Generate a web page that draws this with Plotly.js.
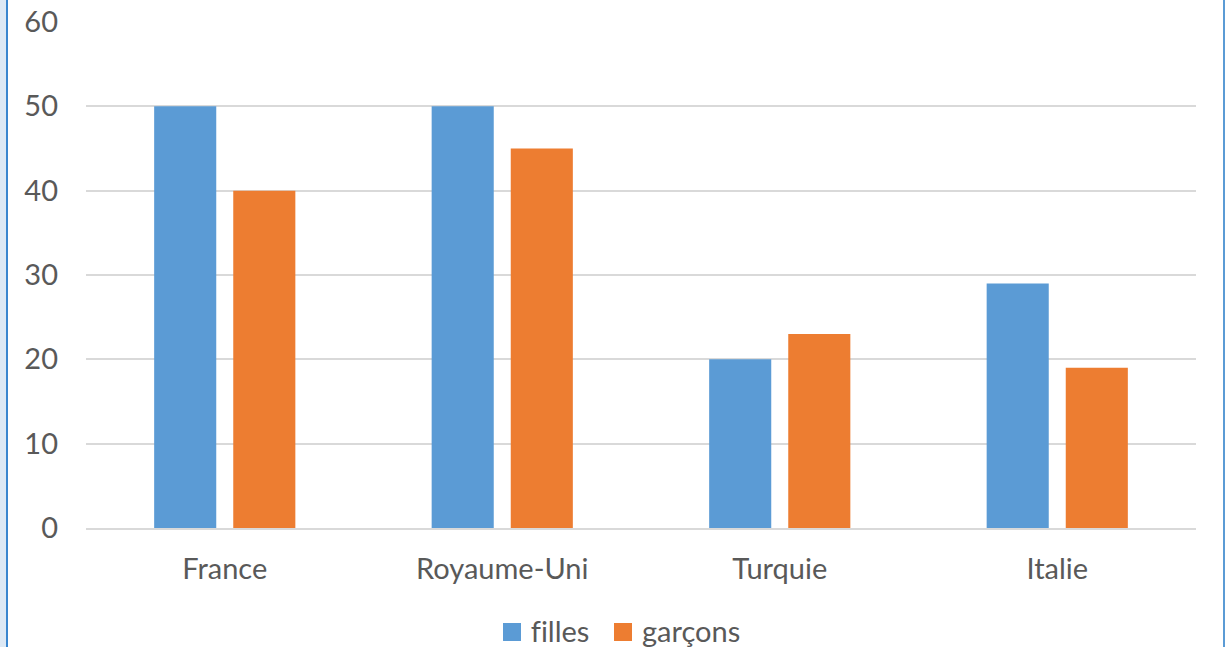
<!DOCTYPE html>
<html><head><meta charset="utf-8">
<script src="https://cdn.plot.ly/plotly-3.0.1.min.js"></script>
<style>
html,body{margin:0;padding:0;background:#fff;}
#wrap{position:relative;width:1225px;height:647px;overflow:hidden;}
#chart{position:absolute;left:0;top:0;width:1225px;height:647px;}
#chart text{font-variant-ligatures:none;font-feature-settings:"liga" 0;}
#lb{position:absolute;left:0;top:0;width:6px;height:647px;background:#dde9f5;}
#ll{position:absolute;left:6px;top:0;width:2px;height:647px;background:#3a86cf;}
#rl{position:absolute;left:1223px;top:0;width:2px;height:647px;background:#5b9bd5;}
</style></head>
<body><div id="wrap"><div id="chart"></div><div id="lb"></div><div id="ll"></div><div id="rl"></div></div>
<script>
const categories = ["France", "Royaume-Uni", "Turquie", "Italie"];
const filles = [50, 50, 20, 29];
const garcons = [40, 45, 23, 19];
const seriesNames = ["filles", "garçons"];
const seriesColors = ["#5b9bd5", "#ed7d31"];
const yTicks = [0, 10, 20, 30, 40, 50, 60];

const fontFam = "Lato, 'Open Sans', sans-serif";
const txtColor = "#595959";
const data = [
  {type:"bar", x:categories, y:filles, name:seriesNames[0], marker:{color:seriesColors[0]}},
  {type:"bar", x:categories, y:garcons, name:seriesNames[1], marker:{color:seriesColors[1]}}
];

// custom legend (paper coords)
const legItems = [
  {x0:0.3757, x1:0.3919, tx:0.399},
  {x0:0.4757, x1:0.4919, tx:0.499}
];
const shapes = [], annotations = [];
legItems.forEach((it, i) => {
  shapes.push({type:"rect", xref:"paper", yref:"paper", x0:it.x0, x1:it.x1, y0:-0.1877, y1:-0.2233,
               fillcolor:seriesColors[i], line:{width:0}});
  annotations.push({xref:"paper", yref:"paper", x:it.tx, y:-0.203, xanchor:"left", yanchor:"middle",
                    text:seriesNames[i], showarrow:false, font:{size:29, color:txtColor, family:fontFam}});
});

const layout = {
  width:1225, height:647,
  margin:{l:86, r:29, t:22, b:119, autoexpand:false},
  paper_bgcolor:"#fff", plot_bgcolor:"#fff",
  barmode:"group", bargap:0.43, bargroupgap:0.215,
  font:{family:fontFam, color:txtColor, size:29},
  xaxis:{type:"category", automargin:false, showgrid:false, showline:true, linecolor:"#d9d9d9", linewidth:2,
         ticks:"", tickfont:{size:29, color:txtColor}, ticklabelstandoff:14},
  yaxis:{range:[0,60], automargin:false, tickvals:yTicks, showgrid:true, gridcolor:"#d9d9d9", gridwidth:2,
         zeroline:false, showline:false, ticks:"", tickfont:{size:29, color:txtColor}, ticklabelstandoff:27},
  shapes:shapes, annotations:annotations,
  showlegend:false
};
Plotly.newPlot("chart", data, layout, {displayModeBar:false, staticPlot:true});
</script></body></html>
